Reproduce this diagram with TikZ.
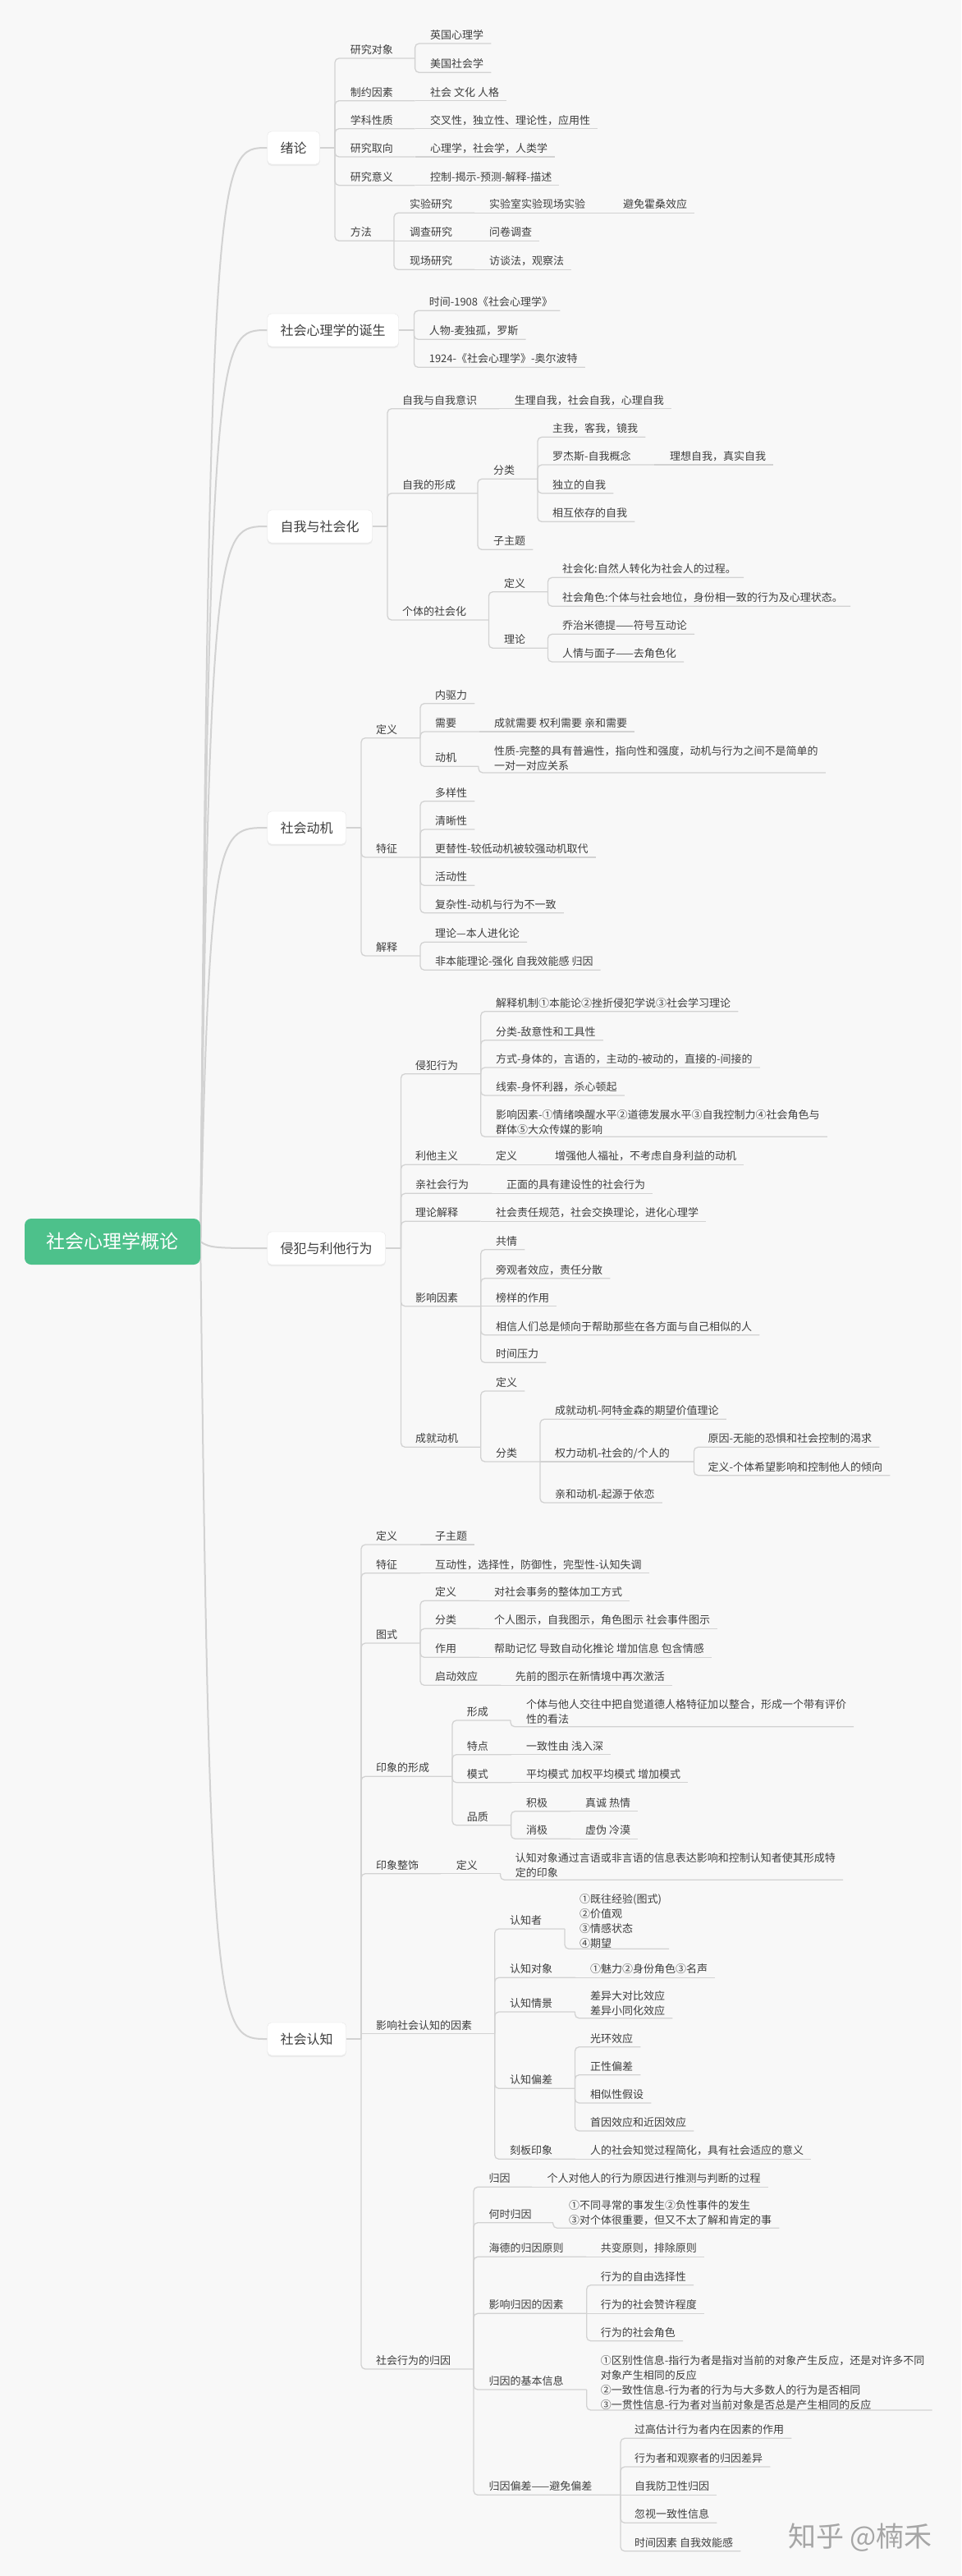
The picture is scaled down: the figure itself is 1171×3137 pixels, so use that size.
\documentclass[tikz,border=0pt]{standalone}
\usepackage{fontspec}
\setmainfont{Noto Sans CJK SC}
\usetikzlibrary{shadows}
\pgfdeclarelayer{bgl}
\pgfsetlayers{bgl,main}
\definecolor{bgc}{RGB}{248,248,248}
\definecolor{txtc}{RGB}{62,62,62}
\definecolor{lnc}{RGB}{210,210,210}
\definecolor{rootg}{RGB}{77,193,139}
\tikzset{
  tx/.style={inner sep=0pt, anchor=base west, text=txtc, font=\fontsize{13}{18.3}\selectfont},
  txm/.style={inner sep=0pt, anchor=west, align=left, text=txtc, font=\fontsize{13}{18.3}\selectfont},
  brl/.style={draw=lnc, line width=1.3pt, rounded corners=5pt},
  brs/.style={draw=lnc, line width=1.3pt},
  lone/.style={anchor=west, draw=black!10, fill=white, rounded corners=5pt, inner xsep=16pt, inner ysep=0pt,
    minimum height=40pt, text=txtc, font=\fontsize{16}{19}\selectfont,
    drop shadow={shadow xshift=0pt, shadow yshift=-2pt, opacity=0.10}},
  rootn/.style={fill=rootg, text=white, rounded corners=8pt, minimum width=214pt, minimum height=56pt,
    inner sep=0pt, font=\fontsize{23}{26}\selectfont},
  rcl/.style={draw=lnc, line width=2pt},
}
% non-leaf with corner: name, x, yu, text, xj, yj, xb
\newcommand\qNd[7]{%
  \node[tx] (#1) at (#2,#3-5.7) {#4};
  \draw[brl] (#5,#6) -- (#5,#3) -- (#7,#3);}
% non-leaf inline: name, x, yu, text, xj, xb
\newcommand\qNi[6]{%
  \node[tx] (#1) at (#2,#3-5.7) {#4};
  \draw[brs] (#5,#3) -- (#6,#3);}
% leaf with corner: name, x, yu, text, xj, yj
\newcommand\qLf[6]{%
  \node[tx] (#1) at (#2,#3-5.7) {#4};
  \coordinate (#1-r) at ([xshift=9pt]#1.east);
  \draw[brl] (#5,#6) -- (#5,#3) -- (#1-r |- 0,#3);}
% leaf inline: name, x, yu, text, xj
\newcommand\qLi[5]{%
  \node[tx] (#1) at (#2,#3-5.7) {#4};
  \coordinate (#1-r) at ([xshift=9pt]#1.east);
  \draw[brs] (#5,#3) -- (#1-r |- 0,#3);}
% multi-line leaf: name, x, ycenter, yu, text, xj, yj
\newcommand\qLm[7]{%
  \node[txm] (#1) at (#2,#3) {#5};
  \coordinate (#1-r) at ([xshift=9pt]#1.east);
  \draw[brl] (#6,#7) -- (#6,#4) -- (#1-r |- 0,#4);}
\begin{document}
\begin{tikzpicture}[x=1pt,y=-1pt]
\useasboundingbox (0,0) rectangle (1171,3137);
\begin{pgfonlayer}{bgl}
\fill[bgc] (0,0) rectangle (1171,3137);
\end{pgfonlayer}

% root and main topics
\node[rootn] (root) at (137,1512) {社会心理学概论};
\node[lone] (n1) at (325.5,180) {绪论};
\node[lone] (n2) at (325.5,402) {社会心理学的诞生};
\node[lone] (n3) at (325.5,641) {自我与社会化};
\node[lone] (n4) at (325.5,1008) {社会动机};
\node[lone] (n5) at (325.5,1520) {侵犯与利他行为};
\node[lone] (n6) at (325.5,2483) {社会认知};
\coordinate (rc) at (255,1512);
\begin{pgfonlayer}{bgl}
\foreach \n in {n1,n2,n3,n4,n5,n6}
  \draw[rcl] (root.east) .. controls (rc |- \n.west) and ([xshift=-60pt]\n.west) .. (\n.west);
\end{pgfonlayer}

% ---------- 绪论
\draw[brs] (n1.east) -- (408,180);
\qNd{a1}{426.6}{71}{研究对象}{408}{180}{505.6}
\qLf{a1a}{524}{53}{英国心理学}{505.6}{71}
\qLf{a1b}{524}{88.3}{美国社会学}{505.6}{71}
\qNd{a2}{426.6}{122.7}{制约因素}{408}{180}{505.6}
\qLi{a2a}{524}{122.7}{社会 文化 人格}{505.6}
\qNd{a3}{426.6}{156.7}{学科性质}{408}{180}{505.6}
\qLi{a3a}{524}{156.7}{交叉性，独立性、理论性，应用性}{505.6}
\qNd{a4}{426.6}{191}{研究取向}{408}{180}{505.6}
\qLi{a4a}{524}{191}{心理学，社会学，人类学}{505.6}
\qNd{a5}{426.6}{225.7}{研究意义}{408}{180}{505.6}
\qLi{a5a}{524}{225.7}{控制-揭示-预测-解释-描述}{505.6}
\qNd{a6}{426.6}{293.3}{方法}{408}{180}{480}
\qNd{a6a}{499}{259.3}{实验研究}{480}{293.3}{578}
\qNi{a6a1}{596}{259.3}{实验室实验现场实验}{578}{741}
\qLi{a6a2}{759}{259.3}{避免霍桑效应}{741}
\qNi{a6b}{499}{293.3}{调查研究}{480}{578}
\qLi{a6b1}{596}{293.3}{问卷调查}{578}
\qNd{a6c}{499}{328.3}{现场研究}{480}{293.3}{578}
\qLi{a6c1}{596}{328.3}{访谈法，观察法}{578}

% ---------- 社会心理学的诞生
\draw[brs] (n2.east) -- (504.4,402);
\qLf{b1}{522.6}{378.3}{时间-1908《社会心理学》}{504.4}{402}
\qLf{b2}{522.6}{413.3}{人物-麦独孤，罗斯}{504.4}{402}
\qLf{b3}{522.6}{447.3}{1924-《社会心理学》-奥尔波特}{504.4}{402}

% ---------- 自我与社会化
\draw[brs] (n3.east) -- (472,641);
\qNd{c1}{490}{497.7}{自我与自我意识}{472}{641}{608}
\qLi{c1a}{626.6}{497.7}{生理自我，社会自我，心理自我}{608}
\qNd{c2}{490}{600.7}{自我的形成}{472}{641}{582}
\qNd{c2a}{601}{583.3}{分类}{582}{600.7}{655}
\qLf{c2a1}{673}{532.3}{主我，客我，镜我}{655}{583.3}
\qNd{c2a2}{673}{566}{罗杰斯-自我概念}{655}{583.3}{797}
\qLi{c2a2a}{815.8}{566}{理想自我，真实自我}{797}
\qLf{c2a3}{673}{600.7}{独立的自我}{655}{583.3}
\qLf{c2a4}{673}{635.3}{相互依存的自我}{655}{583.3}
\qLf{c2b}{601}{669.3}{子主题}{582}{600.7}
\qNd{c3}{490}{755}{个体的社会化}{472}{641}{595.4}
\qNd{c3a}{614}{720.7}{定义}{595.4}{755}{667.5}
\qLf{c3a1}{685}{703.3}{社会化:自然人转化为社会人的过程。}{667.5}{720.7}
\qLf{c3a2}{685}{738.3}{社会角色:个体与社会地位，身份相一致的行为及心理状态。}{667.5}{720.7}
\qNd{c3b}{614}{789.3}{理论}{595.4}{755}{667.5}
\qLf{c3b1}{685}{772.3}{乔治米德提——符号互动论}{667.5}{789.3}
\qLf{c3b2}{685}{806}{人情与面子——去角色化}{667.5}{789.3}

% ---------- 社会动机
\draw[brs] (n4.east) -- (440,1008);
\qNd{d1}{458}{898.7}{定义}{440}{1008}{512}
\qLf{d1a}{530}{856.7}{内驱力}{512}{898.7}
\qNd{d1b}{530}{891}{需要}{512}{898.7}{584}
\qLi{d1b1}{602}{891}{成就需要 权利需要 亲和需要}{584}
\qNd{d1c}{530}{933.3}{动机}{512}{898.7}{583}
\qLm{d1c1}{602}{923.3}{941}{性质-完整的具有普遍性，指向性和强度，动机与行为之间不是简单的\\一对一对应关系}{583}{933.3}
\qNd{d2}{458}{1044}{特征}{440}{1008}{512}
\qLf{d2a}{530}{975.7}{多样性}{512}{1044}
\qLf{d2b}{530}{1010}{清晰性}{512}{1044}
\qLi{d2c}{530}{1044}{更替性-较低动机被较强动机取代}{512}
\qLf{d2d}{530}{1078.3}{活动性}{512}{1044}
\qLf{d2e}{530}{1111.7}{复杂性-动机与行为不一致}{512}{1044}
\qNd{d3}{458}{1164}{解释}{440}{1008}{512}
\qLf{d3a}{530}{1147.3}{理论—本人进化论}{512}{1164}
\qLf{d3b}{530}{1181.3}{非本能理论-强化 自我效能感 归因}{512}{1164}

% ---------- 侵犯与利他行为
\draw[brs] (n5.east) -- (488.5,1520);
\qNd{e1}{506}{1307.7}{侵犯行为}{488.5}{1520}{585.7}
\qLf{e1a}{604}{1231.7}{解释机制①本能论②挫折侵犯学说③社会学习理论}{585.7}{1307.7}
\qLf{e1b}{604}{1266.7}{分类-敌意性和工具性}{585.7}{1307.7}
\qLf{e1c}{604}{1300}{方式-身体的，言语的，主动的-被动的，直接的-间接的}{585.7}{1307.7}
\qLf{e1d}{604}{1334}{线索-身怀利器，杀心顿起}{585.7}{1307.7}
\qLm{e1e}{604}{1366.2}{1384.3}{影响因素-①情绪唤醒水平②道德发展水平③自我控制力④社会角色与\\群体⑤大众传媒的影响}{585.7}{1307.7}
\qNd{e2}{506}{1418.3}{利他主义}{488.5}{1520}{585.7}
\qNi{e2a}{604}{1418.3}{定义}{585.7}{658}
\qLi{e2a1}{676}{1418.3}{增强他人福祉，不考虑自身利益的动机}{658}
\qNd{e3}{506}{1453.3}{亲社会行为}{488.5}{1520}{599}
\qLi{e3a}{617}{1453.3}{正面的具有建设性的社会行为}{599}
\qNd{e4}{506}{1487.3}{理论解释}{488.5}{1520}{585.7}
\qLi{e4a}{604}{1487.3}{社会责任规范，社会交换理论，进化心理学}{585.7}
\qNd{e5}{506}{1590.7}{影响因素}{488.5}{1520}{585.7}
\qLf{e5a}{604}{1521.7}{共情}{585.7}{1590.7}
\qLf{e5b}{604}{1556.7}{旁观者效应，责任分散}{585.7}{1590.7}
\qLi{e5c}{604}{1590.7}{榜样的作用}{585.7}
\qLf{e5d}{604}{1625.7}{相信人们总是倾向于帮助那些在各方面与自己相似的人}{585.7}{1590.7}
\qLf{e5e}{604}{1659.3}{时间压力}{585.7}{1590.7}
\qNd{e6}{506}{1762.3}{成就动机}{488.5}{1520}{585.7}
\qLf{e6a}{604}{1694}{定义}{585.7}{1762.3}
\qNd{e6b}{604}{1780}{分类}{585.7}{1762.3}{658}
\qLf{e6b1}{676}{1728.3}{成就动机-阿特金森的期望价值理论}{658}{1780}
\qNi{e6b2}{676}{1780}{权力动机-社会的/个人的}{658}{845.4}
\qLf{e6b2a}{862.4}{1762.3}{原因-无能的恐惧和社会控制的渴求}{845.4}{1780}
\qLf{e6b2b}{862.4}{1796.7}{定义-个体希望影响和控制他人的倾向}{845.4}{1780}
\qLf{e6b3}{676}{1830}{亲和动机-起源于依恋}{658}{1780}

% ---------- 社会认知
\draw[brs] (n6.east) -- (440,2483);
\qNd{f1}{458}{1881}{定义}{440}{2483}{512}
\qLi{f1a}{530}{1881}{子主题}{512}
\qNd{f2}{458}{1915.7}{特征}{440}{2483}{512}
\qLi{f2a}{530}{1915.7}{互动性，选择性，防御性，完型性-认知失调}{512}
\qNd{f3}{458}{2001}{图式}{440}{2483}{512}
\qNd{f3a}{530}{1949.3}{定义}{512}{2001}{584}
\qLi{f3a1}{602}{1949.3}{对社会事务的整体加工方式}{584}
\qNd{f3b}{530}{1983.3}{分类}{512}{2001}{584}
\qLi{f3b1}{602}{1983.3}{个人图示，自我图示，角色图示 社会事件图示}{584}
\qNd{f3c}{530}{2018.3}{作用}{512}{2001}{584}
\qLi{f3c1}{602}{2018.3}{帮助记忆 导致自动化推论 增加信息 包含情感}{584}
\qNd{f3d}{530}{2052.3}{启动效应}{512}{2001}{610}
\qLi{f3d1}{627.7}{2052.3}{先前的图示在新情境中再次激活}{610}
\qNd{f4}{458}{2163.3}{印象的形成}{440}{2483}{551}
\qNd{f4a}{568.6}{2095}{形成}{551}{2163.3}{622}
\qLm{f4a1}{640.8}{2084.2}{2102.7}{个体与他人交往中把自觉道德人格特征加以整合，形成一个带有评价\\性的看法}{622}{2095}
\qNd{f4b}{568.6}{2136.7}{特点}{551}{2163.3}{623}
\qLi{f4b1}{641}{2136.7}{一致性由 浅入深}{623}
\qNd{f4c}{568.6}{2170.7}{模式}{551}{2163.3}{623}
\qLi{f4c1}{641}{2170.7}{平均模式 加权平均模式 增加模式}{623}
\qNd{f4d}{568.6}{2222.7}{品质}{551}{2163.3}{622.6}
\qNd{f4d1}{641}{2205.7}{积极}{622.6}{2222.7}{695}
\qLi{f4d1a}{713}{2205.7}{真诚 热情}{695}
\qNd{f4d2}{641}{2239.3}{消极}{622.6}{2222.7}{695}
\qLi{f4d2a}{713}{2239.3}{虚伪 冷漠}{695}
\qNd{f5}{458}{2281.7}{印象整饰}{440}{2483}{537}
\qNi{f5a}{555.6}{2281.7}{定义}{537}{609.6}
\qLm{f5a1}{627.7}{2271.2}{2289.3}{认知对象通过言语或非言语的信息表达影响和控制认知者使其形成特\\定的印象}{609.6}{2281.7}
\node[tx] (f6) at (458,2476.7-5.7) {影响社会认知的因素};
\draw[brs] (440,2483) -- (440,2476.7) -- (602.7,2476.7);
\qNd{f6a}{621}{2349}{认知者}{602.7}{2476.7}{688}
\qLm{f6a1}{706}{2339.5}{2373.3}{①既往经验(图式)\\②价值观\\③情感状态\\④期望}{688}{2349}
\qNd{f6b}{621}{2408.3}{认知对象}{602.7}{2476.7}{701}
\qLi{f6b1}{719}{2408.3}{①魅力②身份角色③名声}{701}
\qNd{f6c}{621}{2450}{认知情景}{602.7}{2476.7}{700.5}
\qLm{f6c1}{719}{2439.5}{2457.7}{差异大对比效应\\差异小同化效应}{700.5}{2450}
\qNd{f6d}{621}{2543.3}{认知偏差}{602.7}{2476.7}{700.5}
\qLf{f6d1}{719}{2492.7}{光环效应}{700.5}{2543.3}
\qLf{f6d2}{719}{2526.7}{正性偏差}{700.5}{2543.3}
\qLf{f6d3}{719}{2561}{相似性假设}{700.5}{2543.3}
\qLf{f6d4}{719}{2595}{首因效应和近因效应}{700.5}{2543.3}
\qNd{f6e}{621}{2629.3}{刻板印象}{602.7}{2476.7}{701}
\qLi{f6e1}{719}{2629.3}{人的社会知觉过程简化，具有社会适应的意义}{701}
\qNd{f7}{458}{2885}{社会行为的归因}{440}{2483}{577}
\qNd{f7a}{595.4}{2663.3}{归因}{577}{2885}{648}
\qLi{f7a1}{666.4}{2663.3}{个人对他人的行为原因进行推测与判断的过程}{648}
\qNd{f7b}{595.4}{2706.7}{何时归因}{577}{2885}{673.8}
\qLm{f7b1}{693}{2695}{2713.3}{①不同寻常的事发生②负性事件的发生\\③对个体很重要，但又不太了解和肯定的事}{673.8}{2706.7}
\qNd{f7c}{595.4}{2748.3}{海德的归因原则}{577}{2885}{714}
\qLi{f7c1}{731.7}{2748.3}{共变原则，排除原则}{714}
\qNd{f7d}{595.4}{2817.3}{影响归因的因素}{577}{2885}{714.7}
\qLf{f7d1}{731.7}{2782.7}{行为的自由选择性}{714.7}{2817.3}
\qLi{f7d2}{731.7}{2817.3}{行为的社会赞许程度}{714.7}
\qLf{f7d3}{731.7}{2850.7}{行为的社会角色}{714.7}{2817.3}
\qNd{f7e}{595.4}{2910}{归因的基本信息}{577}{2885}{714.7}
\qLm{f7e1}{731.7}{2901.5}{2935}{①区别性信息-指行为者是指对当前的对象产生反应，还是对许多不同\\对象产生相同的反应\\②一致性信息-行为者的行为与大多数人的行为是否相同\\③一贯性信息-行为者对当前对象是否总是产生相同的反应}{714.7}{2910}
\qNd{f7f}{595.4}{3038.3}{归因偏差——避免偏差}{577}{2885}{756}
\qLf{f7f1}{773}{2969.3}{过高估计行为者内在因素的作用}{756}{3038.3}
\qLf{f7f2}{773}{3004}{行为者和观察者的归因差异}{756}{3038.3}
\qLi{f7f3}{773}{3038.3}{自我防卫性归因}{756}
\qLf{f7f4}{773}{3072.3}{忽视一致性信息}{756}{3038.3}
\qLf{f7f5}{773}{3106.7}{时间因素 自我效能感}{756}{3038.3}

% watermark
\node[text=black!35, font=\fontsize{34}{40}\selectfont, inner sep=0pt] (wm) at (1048,3090) {知乎 @楠禾};
\end{tikzpicture}
\end{document}
